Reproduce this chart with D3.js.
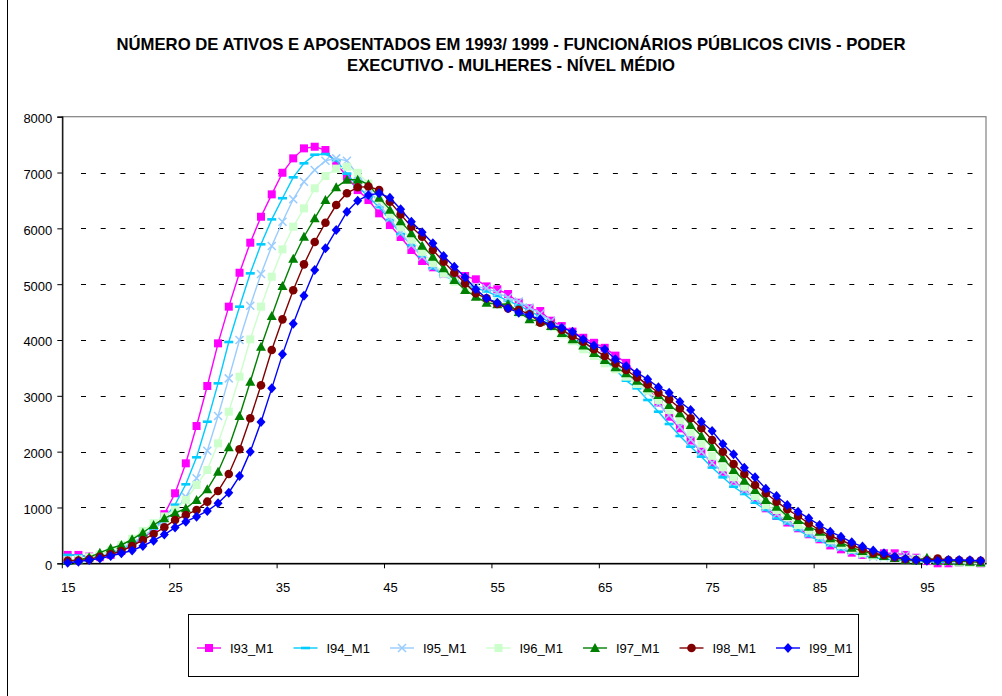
<!DOCTYPE html>
<html>
<head>
<meta charset="utf-8">
<script src="https://cdn.jsdelivr.net/npm/d3@7"></script>
<style>
  html, body { margin: 0; padding: 0; background: #fff; }
  svg { display: block; }
  text { font-family: "Liberation Sans", Arial, sans-serif; fill: #000; }
</style>
</head>
<body>
<svg id="chart" width="1002" height="696"></svg>
<script>
// Ages 15..100 (category axis)
const ages = d3.range(15, 101);

const seriesNames = ["I93_M1", "I94_M1", "I95_M1", "I96_M1", "I97_M1", "I98_M1", "I99_M1"];

const i93 = [150,150,120,110,150,220,320,440,600,880,
  1254,1791,2459,3176,3940,4597,5205,5743,6208,6609,
  6996,7254,7433,7462,7403,7165,6925,6686,6507,6269,
  6059,5845,5612,5415,5302,5194,5150,5146,5087,4960,
  4908,4824,4668,4567,4519,4346,4250,4150,4040,3950,
  3860,3720,3590,3380,3150,2880,2626,2418,2200,2000,
  1791,1640,1480,1325,1150,985,847,730,627,520,
  430,320,250,190,150,150,179,179,150,100,
  40,0,0,10,5,0];

const i94 = [150,140,110,120,170,250,350,470,620,800,
  1050,1415,1899,2536,3224,3964,4597,5194,5714,6161,
  6540,6914,7165,7319,7331,7220,6980,6760,6560,6380,
  6150,5900,5700,5500,5284,5160,5060,4990,4930,4870,
  4790,4700,4620,4520,4420,4300,4170,4040,3910,3770,
  3630,3470,3271,3134,2925,2716,2495,2280,2089,1910,
  1715,1540,1372,1241,1085,955,806,716,597,489,
  405,320,251,190,140,100,80,60,50,40,
  30,20,15,10,5,5];

const i95 = [60,70,90,130,190,270,370,480,610,750,
  930,1190,1522,2017,2638,3313,4000,4614,5182,5683,
  6119,6520,6835,7045,7211,7254,7210,6960,6720,6440,
  6180,5920,5700,5490,5320,5180,5080,4990,4960,4926,
  4850,4760,4690,4580,4470,4340,4200,4070,3960,3830,
  3700,3560,3400,3240,3060,2860,2656,2447,2220,2000,
  1800,1640,1470,1310,1160,1010,880,760,650,540,
  450,360,290,220,160,120,110,130,150,90,
  60,40,30,20,10,5];

const i96 = [50,70,110,160,230,330,440,580,720,840,
  960,1134,1403,1671,2149,2716,3343,4012,4597,5134,
  5624,6029,6358,6717,6937,7070,7104,6996,6800,6520,
  6260,6020,5800,5580,5380,5194,5044,4920,4800,4730,
  4680,4600,4478,4420,4330,4230,4100,3980,3833,3713,
  3582,3475,3343,3211,3092,2925,2746,2567,2357,2149,
  1925,1719,1540,1372,1205,1044,955,824,686,597,
  507,417,328,251,179,137,120,100,75,80,
  60,55,40,10,5,5];

const i97 = [40,60,107,190,268,328,430,548,686,806,
  900,985,1134,1325,1641,2077,2638,3253,3880,4430,
  4967,5455,5850,6179,6507,6735,6870,6870,6790,6550,
  6335,6125,5911,5689,5492,5284,5074,4895,4775,4668,
  4640,4645,4500,4370,4330,4250,4125,4012,3900,3765,
  3641,3511,3403,3271,3134,3015,2835,2687,2477,2280,
  2083,1880,1671,1480,1313,1134,1014,847,776,656,
  566,448,369,280,220,161,130,95,65,50,
  100,45,40,35,30,15];

const i98 = [47,50,71,118,161,220,310,417,525,645,
  776,865,955,1104,1295,1600,2042,2597,3188,3821,
  4370,4890,5355,5755,6101,6418,6630,6735,6750,6686,
  6477,6250,6029,5850,5612,5402,5205,5015,4836,4747,
  4645,4567,4540,4460,4310,4268,4180,4071,3970,3833,
  3713,3582,3462,3331,3206,3056,2937,2776,2597,2418,
  2208,1999,1779,1600,1403,1254,1104,967,847,716,
  597,489,417,328,251,179,149,107,72,60,
  55,85,60,55,50,45];

const i99 = [10,30,60,85,130,180,230,310,405,515,
  640,746,835,937,1075,1265,1563,2000,2531,3134,
  3743,4290,4793,5253,5642,5970,6298,6495,6597,6627,
  6549,6341,6119,5929,5732,5504,5312,5123,4908,4747,
  4668,4567,4489,4440,4370,4260,4220,4149,4012,3900,
  3833,3654,3534,3414,3296,3152,3056,2895,2746,2536,
  2370,2137,1952,1712,1540,1336,1205,1044,924,806,
  686,566,476,375,300,230,179,118,82,59,
  47,47,59,59,53,47];

const yTicks = [0, 1000, 2000, 3000, 4000, 5000, 6000, 7000, 8000];
const xTickLabels = [15, 25, 35, 45, 55, 65, 75, 85, 95];

const titleLines = [
  "NÚMERO DE ATIVOS E APOSENTADOS EM 1993/ 1999 - FUNCIONÁRIOS PÚBLICOS CIVIS - PODER",
  "EXECUTIVO - MULHERES - NÍVEL MÉDIO"
];

const seriesValues = [i93, i94, i95, i96, i97, i98, i99];
const colors = ["#FF00FF", "#00CCFF", "#99CCFF", "#CCFFCC", "#008000", "#800000", "#0000FF"];
const markers = ["square", "dash", "cross", "square", "triangle", "circle", "diamond"];

const svg = d3.select("#chart");

// outer chart frame
svg.append("rect")
  .attr("x", 7.5).attr("y", -2)
  .attr("width", 1010).attr("height", 710)
  .attr("fill", "#fff").attr("stroke", "#000").attr("stroke-width", 1);

// title
svg.append("g").selectAll("text").data(titleLines).join("text")
  .attr("x", 511).attr("y", (d, i) => 50 + i * 21)
  .attr("text-anchor", "middle")
  .attr("font-weight", "bold")
  .attr("font-size", 16.7)
  .text(d => d);

const plot = { left: 62.3, right: 986, top: 116.7, bottom: 563.3 };

const x = d3.scalePoint().domain(ages).range([plot.left, plot.right]).padding(0.5);
const y = d3.scaleLinear().domain([0, 8000]).range([plot.bottom, plot.top]);
const step = x.step();

// plot area border
svg.append("rect")
  .attr("x", plot.left).attr("y", plot.top)
  .attr("width", plot.right - plot.left).attr("height", plot.bottom - plot.top)
  .attr("fill", "none").attr("stroke", "#808080").attr("stroke-width", 1.2);

// dashed horizontal gridlines
svg.append("g").selectAll("line").data(yTicks.filter(v => v > 0 && v < 8000)).join("line")
  .attr("x1", 81).attr("x2", 976)
  .attr("y1", d => Math.round(y(d)) + 0.5).attr("y2", d => Math.round(y(d)) + 0.5)
  .attr("stroke", "#000").attr("stroke-width", 1)
  .attr("stroke-dasharray", "5 14.7");

// y axis
const yAxis = d3.axisLeft(y).tickValues(yTicks).tickSize(5).tickPadding(5).tickFormat(d3.format("d"));
const gy = svg.append("g").attr("transform", `translate(${plot.left},0)`).call(yAxis);
gy.select(".domain").attr("stroke", "#000").attr("stroke-width", 1.2);
gy.selectAll(".tick line").attr("stroke", "#000");
gy.selectAll(".tick text").attr("font-size", 13).attr("dy", "0.45em")
  .attr("font-family", "Liberation Sans, Arial, sans-serif").attr("fill", "#000");

// x axis: ticks on category boundaries, labels on category centres
const xAxis = d3.axisBottom(x).tickValues(xTickLabels).tickSize(0).tickPadding(19);
const gx = svg.append("g").attr("transform", `translate(0,${plot.bottom})`).call(xAxis);
gx.select(".domain").attr("stroke", "#000").attr("stroke-width", 1.4);
gx.selectAll(".tick text").attr("font-size", 13).attr("font-family", "Liberation Sans, Arial, sans-serif").attr("fill", "#000");
svg.append("g").selectAll("line").data(xTickLabels).join("line")
  .attr("x1", d => x(d) - step / 2).attr("x2", d => x(d) - step / 2)
  .attr("y1", plot.bottom).attr("y2", plot.bottom + 5)
  .attr("stroke", "#000").attr("stroke-width", 1);

// marker drawing
function drawMarker(g, type, color) {
  if (type === "square") {
    g.append("rect").attr("x", -4).attr("y", -4).attr("width", 8).attr("height", 8)
      .attr("fill", color);
  } else if (type === "dash") {
    g.append("rect").attr("x", -4.5).attr("y", -1.3).attr("width", 9).attr("height", 2.6)
      .attr("fill", color);
  } else if (type === "cross") {
    g.append("path").attr("d", "M-4,-4L4,4M-4,4L4,-4")
      .attr("stroke", color).attr("stroke-width", 1.5).attr("fill", "none");
  } else if (type === "triangle") {
    g.append("path").attr("d", "M0,-5L5,4L-5,4Z").attr("fill", color);
  } else if (type === "circle") {
    g.append("circle").attr("r", 4.3).attr("fill", color);
  } else if (type === "diamond") {
    g.append("path").attr("d", "M0,-5L4.5,0L0,5L-4.5,0Z").attr("fill", color);
  }
}

const line = d3.line().x((d, i) => x(ages[i])).y(d => y(d));

const gSeries = svg.append("g");
seriesValues.forEach((vals, si) => {
  const g = gSeries.append("g");
  g.append("path").datum(vals)
    .attr("d", line)
    .attr("fill", "none")
    .attr("stroke", colors[si])
    .attr("stroke-width", 1.4);
  g.selectAll("g.pt").data(vals).join("g")
    .attr("class", "pt")
    .attr("transform", (d, i) => `translate(${x(ages[i])},${y(d)})`)
    .each(function () { drawMarker(d3.select(this), markers[si], colors[si]); });
});

// legend
const legend = svg.append("g");
legend.append("rect")
  .attr("x", 188.5).attr("y", 614.5).attr("width", 670).attr("height", 62)
  .attr("fill", "#fff").attr("stroke", "#000").attr("stroke-width", 1);
seriesNames.forEach((name, i) => {
  const lx = 197 + i * 96.5;
  const ly = 648;
  legend.append("line")
    .attr("x1", lx).attr("x2", lx + 24).attr("y1", ly).attr("y2", ly)
    .attr("stroke", colors[i]).attr("stroke-width", 1.4);
  const mg = legend.append("g").attr("transform", `translate(${lx + 12},${ly})`);
  drawMarker(mg, markers[i], colors[i]);
  legend.append("text")
    .attr("x", lx + 33).attr("y", ly + 4.6)
    .attr("font-size", 13)
    .text(name);
});
</script>
</body>
</html>
